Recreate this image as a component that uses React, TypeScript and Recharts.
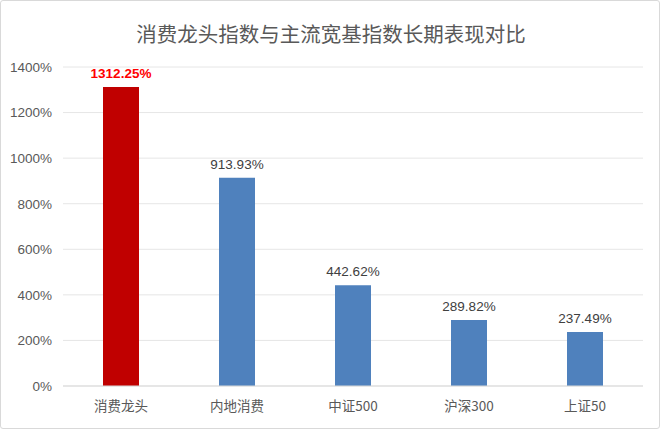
import React from "react";
import { BarChart, Bar, XAxis, YAxis, CartesianGrid, Cell, LabelList } from "recharts";

const categories = ["消费龙头", "内地消费", "中证500", "沪深300", "上证50"];
const values = [1312.25, 913.93, 442.62, 289.82, 237.49];
const barColors = ["#C00000", "#4F81BD", "#4F81BD", "#4F81BD", "#4F81BD"];
const yTicks = [0, 200, 400, 600, 800, 1000, 1200, 1400];

const data = categories.map((name, i) => ({ name, value: values[i], color: barColors[i] }));

const FONT = "'Liberation Sans', Arial, 'Noto Sans CJK SC', sans-serif";

const renderLabel = (props: any) => {
  const { x, y, width, value, index } = props;
  const first = index === 0;
  return (
    <text
      x={x + width / 2}
      y={y - 9}
      textAnchor="middle"
      fontFamily={FONT}
      fontSize={first ? 13.5 : 13.5}
      fontWeight={first ? "bold" : "normal"}
      fill={first ? "#FF0000" : "#404040"}
    >
      {value.toFixed(2) + "%"}
    </text>
  );
};

export default function App() {
  return (
    <div
      style={{
        position: "absolute",
        left: 0,
        top: 0,
        width: 660,
        height: 429,
        background: "#fff",
        boxSizing: "border-box",
        border: "1px solid #D9D9D9",
        borderRadius: 3,
        fontFamily: FONT,
      }}
    >
      <div
        style={{
          position: "absolute",
          top: 17,
          left: 0,
          width: 660,
          textAlign: "center",
          fontSize: 20.5,
          lineHeight: "30px",
          color: "#595959",
          fontFamily: "'Noto Sans CJK SC', sans-serif",
        }}
      >
        消费龙头指数与主流宽基指数长期表现对比
      </div>
      <div style={{ position: "absolute", left: -1, top: -1 }}>
        <BarChart
          width={660}
          height={429}
          data={data}
          margin={{ top: 67, right: 17, bottom: 13, left: 0 }}
          barSize={36}
        >
          <CartesianGrid vertical={false} stroke="#E6E6E6" strokeWidth={1} />
          <XAxis
            dataKey="name"
            height={30}
            axisLine={{ stroke: "#D9D9D9" }}
            tickLine={false}
            tick={{ fill: "#595959", fontSize: 13.5, fontFamily: "'Noto Sans CJK SC', sans-serif" }}
            tickMargin={9}
          />
          <YAxis
            width={63}
            domain={[0, 1400]}
            ticks={yTicks}
            axisLine={false}
            tickLine={false}
            tickFormatter={(v: number) => v + "%"}
            tick={{ fill: "#595959", fontSize: 13.5, fontFamily: FONT }}
            tickMargin={5}
          />
          <Bar dataKey="value" isAnimationActive={false}>
            {data.map((d, i) => (
              <Cell key={i} fill={d.color} />
            ))}
            <LabelList dataKey="value" content={renderLabel} />
          </Bar>
        </BarChart>
      </div>
    </div>
  );
}
